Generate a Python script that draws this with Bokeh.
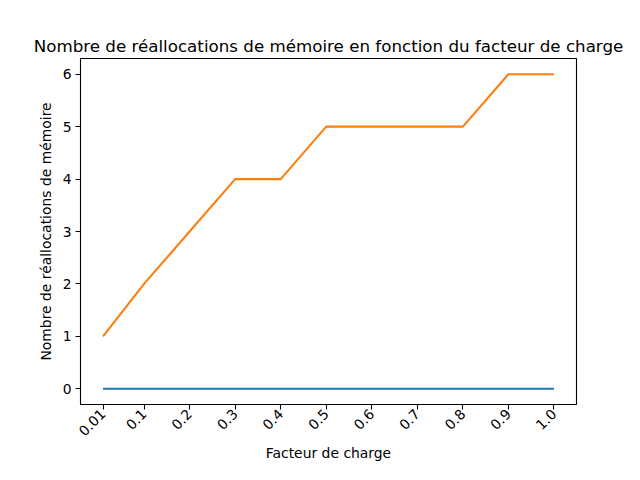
import math
from bokeh.plotting import figure
from bokeh.models import Range1d, FixedTicker
from bokeh.embed import file_html
from bokeh.resources import INLINE

# data
load_factors = [0.01, 0.1, 0.2, 0.3, 0.4, 0.5, 0.6, 0.7, 0.8, 0.9, 1.0]
tick_labels = ["0.01", "0.1", "0.2", "0.3", "0.4", "0.5", "0.6", "0.7", "0.8", "0.9", "1.0"]
series_blue = [0, 0, 0, 0, 0, 0, 0, 0, 0, 0, 0]
series_orange = [1, 2, 3, 4, 4, 5, 5, 5, 5, 6, 6]
y_ticks = [0, 1, 2, 3, 4, 5, 6]

title_text = "Nombre de réallocations de mémoire en fonction du facteur de charge"
x_label = "Facteur de charge"
y_label = "Nombre de réallocations de mémoire"

FONT = "DejaVu Sans"

xpad = (max(load_factors) - min(load_factors)) * 0.05
ymin = min(min(series_blue), min(series_orange))
ymax = max(max(series_blue), max(series_orange))
ypad = (ymax - ymin) * 0.05

p = figure(width=624, height=464, output_backend="svg", toolbar_location=None,
           x_range=Range1d(min(load_factors) - xpad, max(load_factors) + xpad),
           y_range=Range1d(ymin - ypad, ymax + ypad),
           min_border_left=80, min_border_right=48, min_border_top=58, min_border_bottom=20)

p.title.text = title_text
p.title.align = "center"
p.title.text_font = FONT
p.title.text_font_size = "16.7px"
p.title.text_font_style = "normal"
p.title.text_color = "black"
p.title.standoff = 6

p.line(load_factors, series_blue, line_color="#1f77b4", line_width=2.1)
p.line(load_factors, series_orange, line_color="#ff7f0e", line_width=2.1)

p.xgrid.visible = False
p.ygrid.visible = False
p.outline_line_color = "black"
p.outline_line_width = 1.1
p.outline_line_alpha = 1.0

p.xaxis.ticker = FixedTicker(ticks=load_factors)
p.xaxis.major_label_overrides = {v: s for v, s in zip(load_factors, tick_labels)}
p.xaxis.major_label_orientation = math.pi / 4
p.yaxis.ticker = FixedTicker(ticks=y_ticks)

for ax in (p.xaxis[0], p.yaxis[0]):
    ax.axis_line_color = None
    ax.major_tick_line_color = "black"
    ax.major_tick_line_width = 1.1
    ax.major_tick_out = 5
    ax.major_tick_in = 0
    ax.minor_tick_line_color = None
    ax.major_label_text_font = FONT
    ax.major_label_text_font_size = "13.9px"
    ax.major_label_text_color = "black"
    ax.axis_label_text_font = FONT
    ax.axis_label_text_font_size = "13.9px"
    ax.axis_label_text_font_style = "normal"
    ax.axis_label_text_color = "black"

p.xaxis.major_label_standoff = 2
p.yaxis.major_label_standoff = 4
p.xaxis.axis_label = x_label
p.yaxis.axis_label = y_label
p.xaxis.axis_label_standoff = 2
p.yaxis.axis_label_standoff = 6

open("out.html", "w").write(file_html(p, INLINE))
